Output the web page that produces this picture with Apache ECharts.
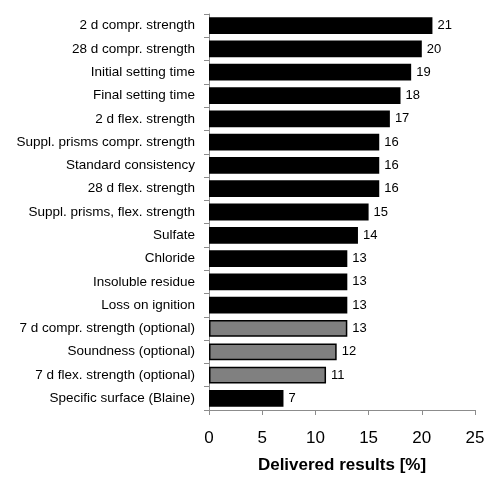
<!DOCTYPE html>
<html>
<head>
<meta charset="utf-8">
<script src="https://cdn.jsdelivr.net/npm/echarts@6/dist/echarts.min.js"></script>
<style>
  html, body { margin: 0; padding: 0; background: #fff; }
  #chart { width: 488px; height: 479px; }
</style>
</head>
<body>
<div id="chart"></div>
<script>
// Test items, listed top to bottom
const categories = [
  '2 d compr. strength',
  '28 d compr. strength',
  'Initial setting time',
  'Final setting time',
  '2 d flex. strength',
  'Suppl. prisms compr. strength',
  'Standard consistency',
  '28 d flex. strength',
  'Suppl. prisms, flex. strength',
  'Sulfate',
  'Chloride',
  'Insoluble residue',
  'Loss on ignition',
  '7 d compr. strength (optional)',
  'Soundness (optional)',
  '7 d flex. strength (optional)',
  'Specific surface (Blaine)'
];
// Share of delivered results, percent
const values = [21, 20, 19, 18, 17, 16, 16, 16, 15, 14, 13, 13, 13, 13, 12, 11, 7];
// Optional tests are drawn in grey
const optional = [false, false, false, false, false, false, false, false, false, false, false, false, false, true, true, true, false];
const xTicks = { min: 0, max: 25, interval: 5 };

const font = '"Liberation Sans", Arial, sans-serif';
const axisGrey = '#8c8c8c';

const data = values.map((v, i) => ({
  value: v,
  itemStyle: {
    color: optional[i] ? '#808080' : '#000000',
    borderColor: '#000000',
    borderWidth: optional[i] ? 1.5 : 0
  }
}));

const chart = echarts.init(document.getElementById('chart'), null, { renderer: 'canvas' });
chart.setOption({
  animation: false,
  grid: { left: 209, right: 13, top: 14, bottom: 66, containLabel: false },
  xAxis: {
    type: 'value',
    min: xTicks.min, max: xTicks.max, interval: xTicks.interval,
    name: 'Delivered results [%]',
    nameLocation: 'middle',
    nameGap: 47,
    nameTextStyle: { fontFamily: font, fontSize: 17, fontWeight: 'bold', color: '#000' },
    axisLine: { show: true, lineStyle: { color: axisGrey, width: 1 } },
    axisTick: { show: true, length: 5, lineStyle: { color: axisGrey } },
    axisLabel: { fontFamily: font, fontSize: 17, color: '#000', margin: 20 },
    splitLine: { show: false }
  },
  yAxis: {
    type: 'category',
    data: categories,
    inverse: true,
    axisLine: { show: true, lineStyle: { color: axisGrey, width: 1 } },
    axisTick: { show: true, length: 5, alignWithLabel: false, lineStyle: { color: axisGrey } },
    axisLabel: { fontFamily: font, fontSize: 13.5, color: '#000', margin: 14 }
  },
  series: [{
    type: 'bar',
    data: data,
    barCategoryGap: '28%',
    label: {
      show: true,
      position: 'right',
      distance: 5,
      fontFamily: font,
      fontSize: 13,
      color: '#000'
    }
  }]
});
</script>
</body>
</html>
